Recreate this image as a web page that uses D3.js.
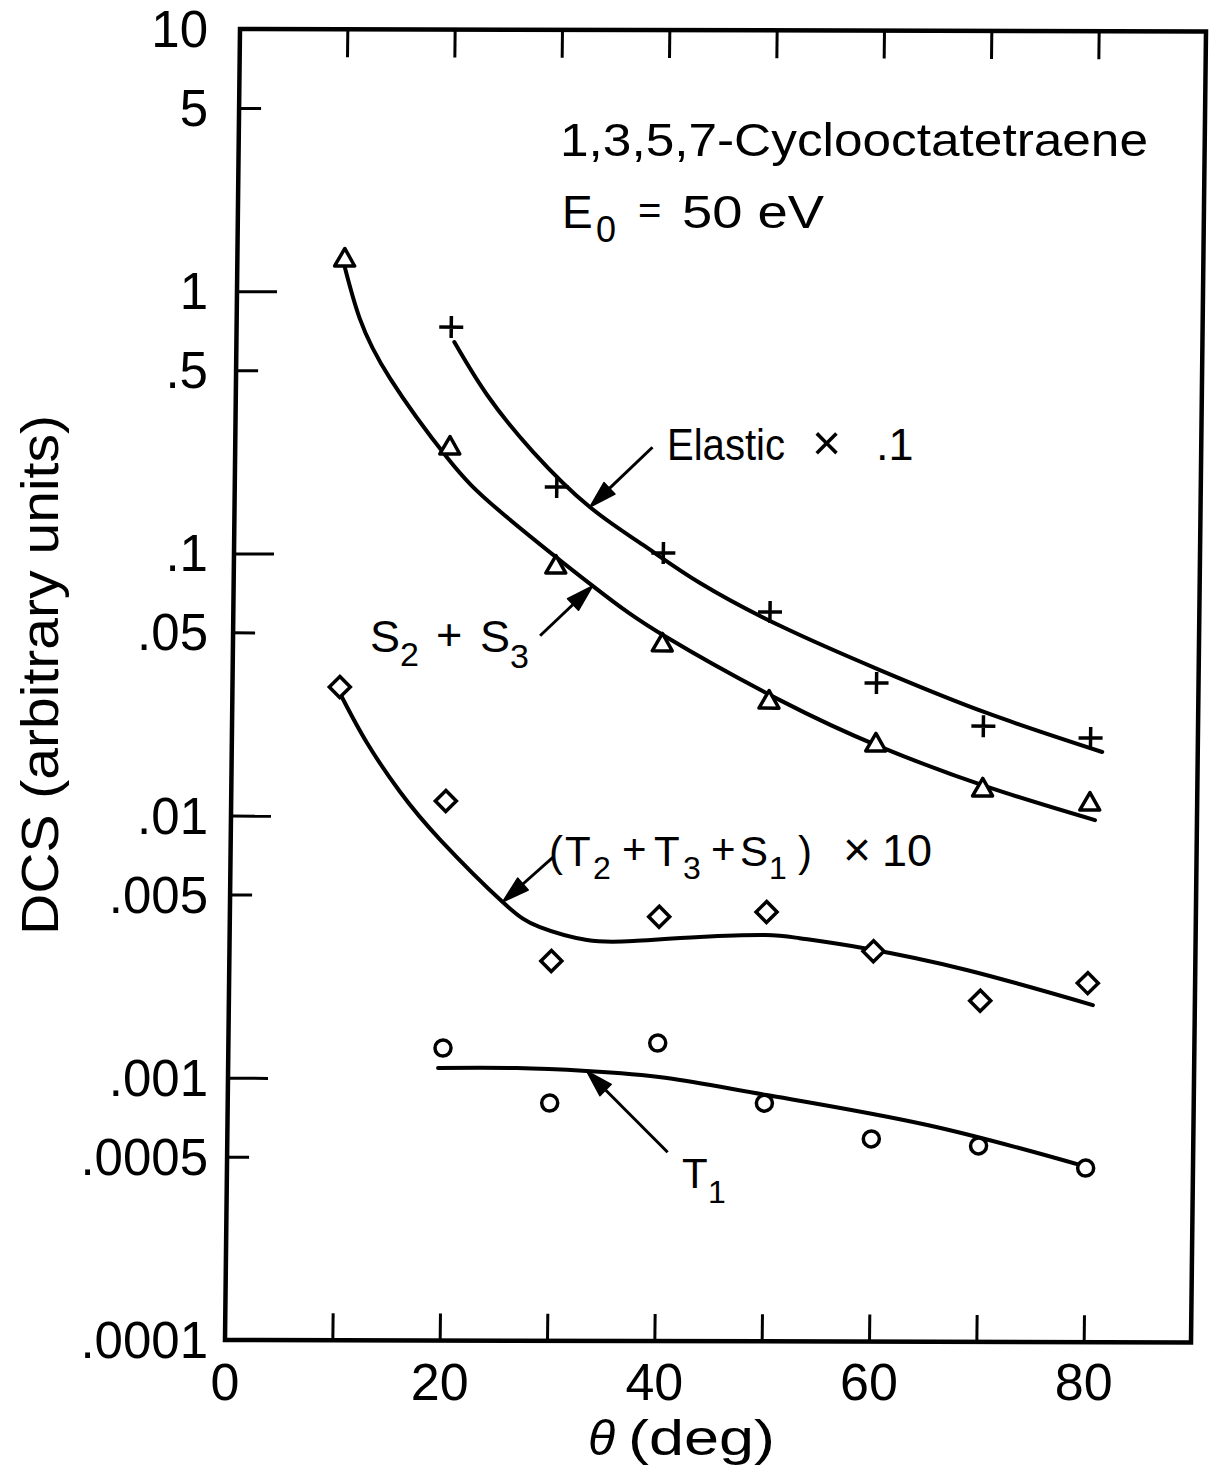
<!DOCTYPE html>
<html>
<head>
<meta charset="utf-8">
<script src="https://cdn.jsdelivr.net/npm/d3@7"></script>
<style>
  body { margin: 0; background: #fff; }
  text { font-family: "Liberation Sans", Arial, sans-serif; fill: #000; }
</style>
</head>
<body>
<svg id="chart" width="1211" height="1466"></svg>
<script>
// ---- measured points: DCS vs scattering angle (deg) ----
const angles = [10, 20, 30, 40, 50, 60, 70, 80];
const s2s3 = [1.342, 0.258, 0.0909, 0.046, 0.0279, 0.0192, 0.01296, 0.01148];

const elasticAngles = [20, 30, 40, 50, 60, 70, 80];
const elastic = [0.733, 0.1804, 0.1013, 0.0605, 0.0325, 0.0223, 0.02015];

const tripletAngles = [10, 20, 30, 40, 50, 60, 70, 80];
const triplet = [0.031, 0.01142, 0.00281, 0.00415, 0.00434, 0.00308, 0.0020, 0.00234];

const t1Angles = [20, 30, 40, 50, 60, 70, 80];
const t1 = [0.001305, 0.000807, 0.00137, 0.00081, 0.000593, 0.000559, 0.000461];

// ---- smooth hand-drawn curves through the data ----
const s2s3FitAngles = [9.97, 11.46, 14.35, 19.75, 24.78, 33.45, 40.44, 51.06, 60.37, 70.44, 80.5];
const s2s3Fit = [1.259, 0.790, 0.4667, 0.2332, 0.1451, 0.0758, 0.0482, 0.02784, 0.01859, 0.01308, 0.00979];

const elasticFitAngles = [20.3, 23.4, 27.75, 33.1, 38.1, 43.45, 51.2, 60.3, 70.3, 81.1];
const elasticFit = [0.643, 0.405, 0.2457, 0.1514, 0.1087, 0.0779, 0.053, 0.0364, 0.02504, 0.01782];

const tripletFitAngles = [10.2, 12.6, 15.7, 19.5, 25.4, 28.9, 33.3, 37.6, 43.8, 49.9, 53.1, 59.0, 68.7, 80.5];
const tripletFit = [0.0284, 0.01897, 0.0124, 0.00814, 0.00471, 0.00378, 0.00338, 0.003354, 0.003479, 0.003544, 0.00345, 0.00317, 0.00262, 0.00193];

const t1FitAngles = [19.56, 26.9, 33.4, 40.9, 50.2, 65.2, 80.1];
const t1Fit = [0.001095, 0.001096, 0.00107, 0.001008, 0.00087, 0.000671, 0.000466];

// ---- axis ticks ----
const xTickValues = [10, 20, 30, 40, 50, 60, 70, 80];
const xTickLabels = [0, 20, 40, 60, 80];
const yTickValues = [5, 1, 0.5, 0.1, 0.05, 0.01, 0.005, 0.001, 0.0005];
const yLabelValues = [10, 5, 1, 0.5, 0.1, 0.05, 0.01, 0.005, 0.001, 0.0005, 0.0001];
const yLabelText = ["10", "5", "1", ".5", ".1", ".05", ".01", ".005", ".001", ".0005", ".0001"];

// ---- layout ----
const X0 = 225, X1 = 1191, Y0 = 1340, Y1 = 29;
// slight shear of the whole figure (hand-made drafting)
const SHX = -0.01144, SHY = 0.0025;
const E = -SHX * Y0, F = -SHY * X0;
const P = (px, py) => [px + SHX * py + E, SHY * px + py + F];

const svg = d3.select("#chart");
const x = d3.scaleLinear().domain([0, 90]).range([X0, X1]);
const y = d3.scaleLog().domain([1e-4, 10]).range([Y0, Y1]);

const g = svg.append("g")
  .attr("transform", `matrix(1, ${SHY}, ${SHX}, 1, ${E}, ${F})`);

// ---- ticks ----
function styleAxis(sel) {
  sel.select(".domain").remove();
  sel.selectAll(".tick line").attr("stroke", "#000").attr("stroke-width", 3);
  sel.selectAll(".tick text").remove();
}
g.append("g").attr("transform", `translate(0,${Y0})`)
  .call(d3.axisBottom(x).tickValues(xTickValues).tickSize(-27).tickSizeOuter(0).tickFormat(""))
  .call(styleAxis);
g.append("g").attr("transform", `translate(0,${Y1})`)
  .call(d3.axisTop(x).tickValues(xTickValues).tickSize(-28).tickSizeOuter(0).tickFormat(""))
  .call(styleAxis);
g.append("g").attr("transform", `translate(${X0},0)`)
  .call(d3.axisLeft(y).tickValues(yTickValues).tickSize(-40).tickSizeOuter(0).tickFormat(""))
  .call(styleAxis)
  .selectAll(".tick line")
  .attr("x2", d => (Math.abs(Math.log10(d) - Math.round(Math.log10(d))) < 1e-6 ? 40 : 22));

// ---- frame ----
g.append("rect")
  .attr("x", X0).attr("y", Y1).attr("width", X1 - X0).attr("height", Y0 - Y1)
  .attr("fill", "none").attr("stroke", "#000").attr("stroke-width", 4.5);

// ---- curves ----
const line = d3.line()
  .x(d => x(d[0])).y(d => y(d[1]))
  .curve(d3.curveNatural);
const curves = [
  [s2s3FitAngles, s2s3Fit],
  [elasticFitAngles, elasticFit],
  [tripletFitAngles, tripletFit],
  [t1FitAngles, t1Fit]
];
curves.forEach(([a, v]) => {
  g.append("path")
    .attr("d", line(a.map((d, i) => [d, v[i]])))
    .attr("fill", "none").attr("stroke", "#000").attr("stroke-width", 4)
    .attr("stroke-linecap", "round");
});

// ---- markers ----
const mk = { fill: "#fff", stroke: "#000", "stroke-width": 3.5 };
function applyAttrs(sel, attrs) { Object.entries(attrs).forEach(([k, v]) => sel.attr(k, v)); return sel; }

// triangles
angles.forEach((a, i) => {
  applyAttrs(g.append("path")
    .attr("d", "M0,-9.5L10,8L-10,8Z")
    .attr("transform", `translate(${x(a)},${y(s2s3[i])})`), mk)
    .attr("stroke-linejoin", "round");
});
// plus signs
elasticAngles.forEach((a, i) => {
  g.append("path")
    .attr("d", "M-12,0H12M0,-11V11")
    .attr("transform", `translate(${x(a)},${y(elastic[i])})`)
    .attr("stroke", "#000").attr("stroke-width", 3.5).attr("fill", "none");
});
// diamonds
tripletAngles.forEach((a, i) => {
  applyAttrs(g.append("path")
    .attr("d", "M0,-10.5L10.5,0L0,10.5L-10.5,0Z")
    .attr("transform", `translate(${x(a)},${y(triplet[i])})`), mk);
});
// circles
t1Angles.forEach((a, i) => {
  applyAttrs(g.append("circle")
    .attr("cx", x(a)).attr("cy", y(t1[i])).attr("r", 8), mk);
});

// ---- arrows pointing at curves ----
function arrow(tipDeg, tipVal, dx, dy) {
  const tx = x(tipDeg), ty = y(tipVal);
  const sx = tx + dx, sy = ty + dy;
  const L = Math.hypot(dx, dy);
  const ux = -dx / L, uy = -dy / L;
  const hl = 27, hw = 8;
  const bx = tx - ux * hl, by = ty - uy * hl;
  const px = -uy, py = ux;
  g.append("line")
    .attr("x1", sx).attr("y1", sy).attr("x2", bx).attr("y2", by)
    .attr("stroke", "#000").attr("stroke-width", 3);
  g.append("path")
    .attr("d", `M${tx},${ty}L${bx + px * hw},${by + py * hw}L${bx - px * hw},${by - py * hw}Z`)
    .attr("fill", "#000").attr("stroke", "#000").attr("stroke-width", 1.5).attr("stroke-linejoin", "round");
}
arrow(33.1, 0.1514, 62, -60);
arrow(33.45, 0.0758, -52, 50);
arrow(25.4, 0.00471, 50, -45);
arrow(33.4, 0.00107, 82, 81);

// ---- text ----
function txt(px, py, s, size, opt = {}) {
  const t = svg.append("text").attr("x", px).attr("y", py)
    .attr("font-size", size).text(s);
  if (opt.anchor) t.attr("text-anchor", opt.anchor);
  if (opt.len) t.attr("textLength", opt.len).attr("lengthAdjust", "spacingAndGlyphs");
  if (opt.italic) t.attr("font-style", "italic");
  return t;
}

// tick labels
yLabelValues.forEach((v, i) => {
  const [, py] = P(X0, y(v));
  txt(208, py + 18, yLabelText[i], 51, { anchor: "end" });
});
xTickLabels.forEach(v => {
  const [px] = P(x(v), Y0);
  txt(px, 1400, String(v), 52, { anchor: "middle" });
});

// axis titles
svg.append("text")
  .attr("transform", "translate(58,675) rotate(-90)")
  .attr("text-anchor", "middle")
  .attr("font-size", 51)
  .attr("textLength", 520).attr("lengthAdjust", "spacingAndGlyphs")
  .text("DCS (arbitrary units)");
txt(588, 1455, "θ", 50, { italic: true });
txt(628, 1455, "(deg)", 50, { len: 147 });

// heading
txt(560, 156, "1,3,5,7-Cyclooctatetraene", 46, { len: 588 });
txt(562, 228, "E", 46);
txt(596, 242, "0", 36);
txt(638, 224, "=", 40);
txt(682, 228, "50 eV", 46, { len: 142 });

// curve labels
txt(667, 460, "Elastic", 45, { len: 118 });
txt(812, 460, "×", 50);
txt(876, 460, ".1", 45);

txt(370, 652, "S", 45);
txt(400, 666, "2", 34);
txt(436, 650, "+", 45);
txt(480, 652, "S", 45);
txt(510, 668, "3", 34);

txt(549, 866, "(", 42);
txt(565, 866, "T", 42);
txt(593, 879, "2", 32);
txt(622, 864, "+", 42);
txt(654, 866, "T", 42);
txt(683, 879, "3", 32);
txt(711, 864, "+", 42);
txt(740, 866, "S", 42);
txt(769, 879, "1", 32);
txt(798, 866, ")", 42);
txt(843, 866, "×", 48);
txt(882, 866, "10", 45);

txt(682, 1188, "T", 42);
txt(708, 1203, "1", 32);
</script>
</body>
</html>
